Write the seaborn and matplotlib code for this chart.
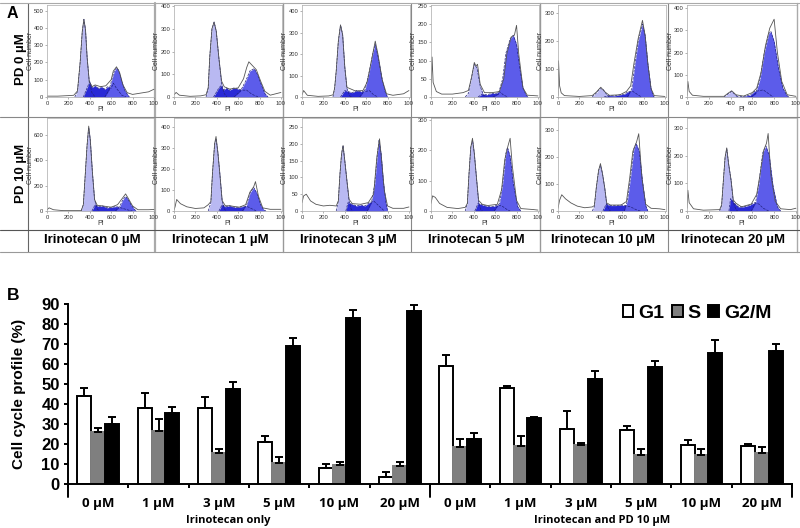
import pandas as pd
import matplotlib
matplotlib.use("Agg")
import matplotlib.pyplot as plt
import seaborn as sns

# Panel A, values as (PI, cell number)
# PD 0 uM row
p0_i0_g1 = [(260,0),(285,30),(310,200),(330,380),(345,450),(360,390),(375,230),(395,90),(420,25),(450,0)]
p0_i0_s = [(340,0),(380,60),(400,90),(420,55),(450,65),(480,50),(510,60),(540,45),(570,60),(600,50),(620,80),(650,50),(700,10),(740,0)]
p0_i0_g2 = [(540,0),(580,40),(610,110),(630,150),(650,170),(670,155),(700,90),(730,35),(770,0)]
p0_i0_all = [(0,5),(100,5),(200,8),(250,10),(285,35),(310,200),(330,380),(345,450),(360,390),(375,230),(395,90),(420,60),(450,70),(500,60),(550,65),(600,100),(620,150),(650,175),(680,140),(710,70),(750,25),(800,15),(850,20),(900,25),(950,30),(1000,45)]

p0_i1_g1 = [(300,0),(320,40),(335,180),(355,300),(375,330),(395,290),(420,170),(445,60),(470,15),(495,0)]
p0_i1_s = [(370,0),(420,40),(440,50),(460,30),(490,40),(520,30),(560,40),(600,35),(640,30),(680,30),(720,15),(760,5),(800,0)]
p0_i1_g2 = [(560,0),(620,25),(670,70),(710,115),(750,125),(780,100),(820,50),(850,15),(880,0)]
p0_i1_all = [(0,10),(20,20),(50,8),(150,3),(250,5),(300,10),(320,40),(335,180),(355,300),(375,330),(395,290),(420,170),(445,70),(470,45),(520,35),(600,40),(650,80),(680,130),(700,155),(730,140),(770,120),(810,70),(850,25),(900,8),(1000,20)]

p0_i3_g1 = [(290,0),(305,40),(320,120),(340,260),(360,335),(380,290),(400,140),(420,40),(445,5),(470,0)]
p0_i3_s = [(360,0),(400,30),(430,25),(470,20),(510,30),(550,25),(590,25),(630,30),(670,10),(710,0)]
p0_i3_g2 = [(540,0),(590,35),(630,120),(665,210),(685,245),(710,190),(750,80),(780,20),(800,0)]
p0_i3_all = [(0,10),(15,30),(50,8),(150,3),(250,5),(290,10),(305,40),(320,120),(340,260),(360,335),(380,290),(400,140),(420,45),(500,28),(570,30),(610,70),(650,170),(685,260),(710,200),(750,80),(790,15),(850,8),(950,15),(1000,30)]

p0_i5_g1 = [(320,0),(350,10),(380,55),(405,90),(430,80),(460,30),(490,5),(520,0)]
p0_i5_s = [(440,0),(480,8),(520,6),(570,10),(610,10),(640,15),(680,5),(720,0)]
p0_i5_g2 = [(580,0),(630,8),(670,50),(700,120),(740,160),(770,170),(800,145),(830,80),(860,25),(890,5),(910,0)]
p0_i5_all = [(0,5),(10,110),(20,40),(50,15),(100,8),(200,8),(300,12),(350,18),(380,55),(405,95),(420,85),(435,90),(460,35),(500,12),(570,12),(640,15),(680,50),(710,120),(750,165),(780,170),(800,197),(820,120),(860,25),(900,5),(1000,3)]

p0_i10_g1 = [(320,0),(360,15),(390,30),(420,28),(450,12),(480,0)]
p0_i10_s = [(430,0),(480,5),(530,4),(580,8),(620,10),(660,20),(700,20),(740,10),(780,0)]
p0_i10_g2 = [(650,0),(690,30),(720,120),(750,200),(790,262),(815,220),(840,120),(870,30),(890,5),(900,0)]
p0_i10_all = [(0,5),(5,130),(15,40),(30,15),(60,5),(200,2),(320,5),(360,18),(400,35),(440,18),(480,6),(580,8),(640,20),(680,40),(710,120),(750,210),(790,275),(815,220),(840,120),(870,30),(900,5),(1000,2)]

p0_i20_g1 = [(340,0),(380,15),(410,25),(440,12),(470,0)]
p0_i20_s = [(450,0),(520,3),(580,8),(620,25),(660,28),(700,32),(740,18),(790,0)]
p0_i20_g2 = [(590,0),(630,15),(670,80),(710,200),(750,285),(770,295),(800,250),(840,130),(880,40),(920,5),(940,0)]
p0_i20_all = [(0,5),(8,70),(20,25),(50,8),(150,3),(340,3),(380,18),(410,28),(450,10),(520,4),(600,20),(640,40),(680,110),(720,230),(760,310),(800,350),(830,200),(870,70),(920,10),(1000,3)]

# PD 10 uM row
p10_i0_g1 = [(320,0),(340,50),(355,250),(375,520),(390,660),(405,560),(425,300),(445,90),(470,15),(490,0)]
p10_i0_s = [(420,0),(450,50),(480,35),(520,40),(560,25),(600,30),(650,35),(690,25),(730,15),(770,5),(800,0)]
p10_i0_g2 = [(640,0),(680,35),(710,90),(735,115),(760,90),(790,45),(820,10),(840,0)]
p10_i0_all = [(0,10),(20,25),(60,10),(150,3),(320,3),(340,50),(355,250),(375,520),(390,670),(405,560),(425,300),(445,90),(470,45),(520,40),(600,30),(660,50),(700,95),(735,135),(760,100),(800,40),(850,10),(950,10),(1000,12)]

p10_i1_g1 = [(320,0),(345,40),(360,180),(380,320),(393,345),(410,280),(430,170),(450,50),(470,10),(490,0)]
p10_i1_s = [(420,0),(450,30),(480,20),(520,25),(560,18),(610,18),(650,22),(690,20),(730,10),(770,0)]
p10_i1_g2 = [(640,0),(680,30),(710,85),(745,112),(775,85),(810,30),(840,5),(860,0)]
p10_i1_all = [(0,5),(10,20),(25,55),(60,35),(120,20),(200,12),(280,15),(320,30),(345,45),(360,180),(380,320),(393,355),(410,280),(430,170),(450,50),(480,25),(520,25),(610,18),(670,30),(710,90),(745,115),(762,140),(790,70),(830,15),(900,8),(1000,8)]

p10_i3_g1 = [(320,0),(340,30),(355,110),(370,170),(384,195),(400,150),(420,90),(440,30),(460,5),(475,0)]
p10_i3_s = [(410,0),(430,25),(470,20),(510,15),(550,18),(590,15),(630,25),(670,30),(720,15),(770,0)]
p10_i3_g2 = [(610,0),(650,25),(680,80),(705,170),(720,210),(740,170),(760,90),(785,25),(800,0)]
p10_i3_all = [(0,25),(15,45),(40,50),(80,30),(130,20),(200,15),(260,17),(320,15),(340,30),(355,110),(370,170),(384,195),(400,150),(420,90),(440,35),(470,22),(550,20),(620,25),(670,50),(700,160),(725,215),(745,150),(770,60),(800,15),(850,8),(950,8),(1000,12)]

p10_i5_g1 = [(320,0),(340,25),(355,120),(372,210),(388,235),(405,190),(425,110),(445,30),(465,5),(480,0)]
p10_i5_s = [(410,0),(440,25),(480,20),(530,15),(580,15),(630,20),(670,15),(710,5),(740,0)]
p10_i5_g2 = [(590,0),(640,25),(670,90),(700,190),(715,210),(740,180),(770,90),(810,15),(840,0)]
p10_i5_all = [(0,25),(15,50),(40,45),(80,25),(150,12),(250,8),(320,12),(340,25),(355,120),(372,210),(388,240),(405,190),(425,110),(445,35),(480,22),(530,18),(620,22),(660,70),(690,170),(720,215),(740,240),(760,150),(800,35),(840,8),(950,5),(1000,3)]

p10_i10_g1 = [(320,0),(340,15),(358,85),(380,150),(397,168),(415,140),(437,85),(455,25),(475,5),(490,0)]
p10_i10_s = [(420,0),(450,25),(490,20),(540,20),(590,22),(630,20),(680,15),(730,5),(770,0)]
p10_i10_g2 = [(620,0),(650,40),(680,130),(710,230),(730,250),(760,220),(790,110),(820,20),(840,0)]
p10_i10_all = [(0,10),(15,40),(35,60),(70,45),(120,30),(180,18),(250,12),(320,15),(340,20),(358,85),(380,150),(397,175),(415,140),(437,85),(455,30),(490,22),(590,22),(640,35),(670,120),(700,220),(735,255),(755,285),(785,120),(820,25),(870,10),(950,8),(1000,5)]

p10_i20_g1 = [(300,0),(318,20),(334,110),(350,195),(365,225),(382,170),(405,110),(425,30),(450,5),(465,0)]
p10_i20_s = [(385,0),(400,45),(430,30),(470,15),(520,15),(570,20),(620,30),(660,25),(700,10),(750,0)]
p10_i20_g2 = [(590,0),(630,30),(660,100),(695,210),(725,235),(755,200),(790,90),(830,15),(860,0)]
p10_i20_all = [(0,10),(8,75),(20,30),(60,8),(150,3),(300,5),(318,22),(334,110),(350,195),(365,228),(382,170),(405,110),(425,40),(450,28),(500,15),(590,25),(640,60),(670,130),(705,220),(730,245),(745,280),(770,130),(810,35),(860,8),(950,5),(1000,10)]

# y axis top and ticks of each histogram
ymax_pd0 = [533, 405, 428, 253, 330, 414]
ymax_pd10 = [734, 443, 277, 307, 343, 336]
yticks_pd0 = [[0,100,200,300,400,500], [0,100,200,300,400], [0,100,200,300,400], [0,50,100,150,200,250], [0,100,200,300], [0,100,200,300,400]]
yticks_pd10 = [[0,200,400,600], [0,100,200,300,400], [0,50,100,150,200,250], [0,100,200,300], [0,100,200,300], [0,100,200,300]]
pi_ticks = [0, 200, 400, 600, 800, 1000]
pi_labels = ["0", "200", "400", "600", "800", "100"]
column_titles = ["Irinotecan 0 µM", "Irinotecan 1 µM", "Irinotecan 3 µM", "Irinotecan 5 µM", "Irinotecan 10 µM", "Irinotecan 20 µM"]

# Panel B
doses = ["0 µM", "1 µM", "3 µM", "5 µM", "10 µM", "20 µM"] * 2
g1_mean = [44, 38, 37.8, 21, 8, 3.5, 58.8, 47.8, 27.5, 26.8, 19.5, 18.8]
s_mean = [26, 26.5, 15.5, 10.5, 9.5, 9.2, 18.5, 19, 19.3, 14.3, 14.7, 15.7]
g2_mean = [30, 35.7, 47.3, 69, 83, 86.5, 22.5, 33, 52.7, 58.5, 65.7, 66.7]
g1_err = [4, 7.5, 5.7, 3, 2, 2.5, 5.9, 1, 9.2, 2.2, 2.7, 1]
s_err = [2, 6, 2, 3, 1.5, 2, 4.2, 5, 1.4, 3, 2.8, 2.6]
g2_err = [3.5, 3, 3.7, 4, 4, 3, 2.8, 0.7, 4, 3, 6.5, 3.5]

sns.set_style("white")
plt.rcParams['font.family'] = ['Liberation Sans', 'DejaVu Sans']
plt.rcParams['text.color'] = 'black'
plt.rcParams['axes.labelcolor'] = 'black'
plt.rcParams['xtick.color'] = 'black'
plt.rcParams['ytick.color'] = 'black'

fig = plt.figure(figsize=(8, 5.28), dpi=100)


def px_axes(left, top, right, bottom):
    return fig.add_axes([left / 800, 1 - bottom / 528, (right - left) / 800, (bottom - top) / 528])


# overlay in image pixels for the table lines and the loose labels
over = fig.add_axes([0, 0, 1, 1])
over.set_xlim(0, 800)
over.set_ylim(528, 0)
over.axis("off")
for x, c, w in [(28, "#666666", 0.8), (155, "#aaaaaa", 1.6), (283, "#999999", 1.0), (411, "#888888", 0.8),
                (540, "#999999", 1.0), (668, "#888888", 0.8), (797, "#aaaaaa", 1.0)]:
    over.plot([x, x], [3, 252], color=c, lw=w)
for y, c in [(3, "#aaaaaa"), (117, "#888888"), (230, "#555555"), (252, "#999999")]:
    over.plot([0, 800], [y, y], color=c, lw=0.8)

over.text(7, 13.5, "A", fontsize=11.5, fontweight="bold", va="center")
over.text(7, 296, "B", fontsize=12.5, fontweight="bold", va="center")
over.text(21, 59, "PD 0 µM", fontsize=9.5, fontweight="bold", rotation=90, ha="center", va="center")
over.text(21, 173, "PD 10 µM", fontsize=9.5, fontweight="bold", rotation=90, ha="center", va="center")
for cx, title in zip([92, 220, 348, 476, 603, 733], column_titles):
    over.text(cx, 240, title, fontsize=9.5, fontweight="bold", ha="center", va="center")

lefts = [47, 174, 302, 431, 558, 687]
rights = [155, 282, 410, 539, 666, 797]
rows = [
    (5, 97, ymax_pd0, yticks_pd0,
     [(p0_i0_g1, p0_i0_s, p0_i0_g2, p0_i0_all), (p0_i1_g1, p0_i1_s, p0_i1_g2, p0_i1_all),
      (p0_i3_g1, p0_i3_s, p0_i3_g2, p0_i3_all), (p0_i5_g1, p0_i5_s, p0_i5_g2, p0_i5_all),
      (p0_i10_g1, p0_i10_s, p0_i10_g2, p0_i10_all), (p0_i20_g1, p0_i20_s, p0_i20_g2, p0_i20_all)]),
    (118, 211, ymax_pd10, yticks_pd10,
     [(p10_i0_g1, p10_i0_s, p10_i0_g2, p10_i0_all), (p10_i1_g1, p10_i1_s, p10_i1_g2, p10_i1_all),
      (p10_i3_g1, p10_i3_s, p10_i3_g2, p10_i3_all), (p10_i5_g1, p10_i5_s, p10_i5_g2, p10_i5_all),
      (p10_i10_g1, p10_i10_s, p10_i10_g2, p10_i10_all), (p10_i20_g1, p10_i20_s, p10_i20_g2, p10_i20_all)]),
]

for top, bottom, ymaxs, yticks, panels in rows:
    for i, (g1, s, g2, total) in enumerate(panels):
        ax = px_axes(lefts[i], top, rights[i], bottom)
        # the three fitted phases, S goes under G2
        for pts, col in [(g1, "#b9b9f2"), (s, "#2a2ad6"), (g2, "#5c5cea")]:
            part = pd.DataFrame(pts, columns=["PI", "count"])
            ax.fill_between(part["PI"], part["count"], color=col, lw=0)
            sns.lineplot(data=part, x="PI", y="count", ax=ax, color="#23237f", lw=0.5,
                         linestyle="--", errorbar=None, sort=False)
        outline = pd.DataFrame(total, columns=["PI", "count"])
        sns.lineplot(data=outline, x="PI", y="count", ax=ax, color="#555555", lw=0.6,
                     errorbar=None, sort=False)
        ax.set_xlim(0, 1010)
        ax.set_ylim(0, ymaxs[i])
        ax.set_xticks(pi_ticks, pi_labels)
        ax.set_yticks(yticks[i])
        ax.tick_params(length=1.5, width=0.4, labelsize=4.2, pad=1.2, color="#777777", labelcolor="#333333",
                       left=True, bottom=True)
        ax.set_xlabel("PI", fontsize=5, labelpad=0, color="#333333")
        ax.set_ylabel("Cell number", fontsize=5, color="#333333")
        ax.yaxis.set_label_coords(-13.5 / (rights[i] - lefts[i]), 0.5)
        for spine in ax.spines.values():
            spine.set_linewidth(0.5)
            spine.set_color("#aaaaaa")
        ax.patch.set_alpha(0)

# Panel B bars
df = pd.DataFrame({
    "pos": list(range(12)) * 3,
    "phase": ["G1"] * 12 + ["S"] * 12 + ["G2/M"] * 12,
    "value": g1_mean + s_mean + g2_mean,
})
bx = px_axes(68, 304, 792, 484)
sns.barplot(data=df, x="pos", y="value", hue="phase", hue_order=["G1", "S", "G2/M"],
            palette=["white", "#7f7f7f", "black"], saturation=1, width=0.69, gap=0,
            edgecolor="black", linewidth=1.4, errorbar=None, ax=bx)

for bars, errs, edge in zip(bx.containers, [g1_err, s_err, g2_err], ["black", "#7f7f7f", "black"]):
    xs = []
    ys = []
    for bar in bars:
        bar.set_edgecolor(edge)
        xs.append(bar.get_x() + bar.get_width() / 2)
        ys.append(bar.get_height())
    bx.errorbar(xs, ys, yerr=[[0] * 12, errs], fmt="none", ecolor="black", elinewidth=1.4,
                capsize=2.6, capthick=1.4, zorder=1)

bx.set_xlim(-0.5, 11.5)
bx.set_ylim(0, 90)
bx.set_yticks(range(0, 100, 10))
bx.set_xticks(range(12), doses)
bx.set_xticks([b - 0.5 for b in range(13)], minor=True)
bx.tick_params(axis="x", which="major", length=0, pad=9, labelsize=9.5)
bx.tick_params(axis="x", which="minor", length=3, width=1.4, color="black", bottom=True)
bx.tick_params(axis="y", length=3, width=1.4, color="black", left=True, labelsize=12, pad=3)
for lab in bx.get_xticklabels():
    lab.set_fontfamily(["Open Sans", "DejaVu Sans"])
    lab.set_fontweight("bold")
for lab in bx.get_yticklabels():
    lab.set_fontweight("bold")
bx.set_xlabel("")
bx.set_ylabel("Cell cycle profile (%)", fontsize=11, fontweight="bold", labelpad=11)
sns.despine(ax=bx)
bx.spines["left"].set_linewidth(1.4)
bx.spines["bottom"].set_linewidth(1.4)
bx.spines["left"].set_color("black")
bx.spines["bottom"].set_color("black")
# long ticks that split the two treatment groups
for b in [-0.5, 5.5, 11.5]:
    bx.plot([b, b], [0, -13 / 180], transform=bx.get_xaxis_transform(), color="black", lw=1.4, clip_on=False)

over.text(228, 520, "Irinotecan only", fontsize=8, fontweight="bold", ha="center", va="center",
          family=["Open Sans", "DejaVu Sans"])
over.text(602, 520, "Irinotecan and PD 10 µM", fontsize=8, fontweight="bold", ha="center", va="center",
          family=["Open Sans", "DejaVu Sans"])

bx.legend(loc="upper right", bbox_to_anchor=(0.985, 1.05), ncol=3, frameon=False, handlelength=0.55, handleheight=0.55,
          handletextpad=0.25, columnspacing=0.4, borderpad=0, prop={"weight": "bold", "size": 14})

fig.savefig("out.png", dpi=100)
